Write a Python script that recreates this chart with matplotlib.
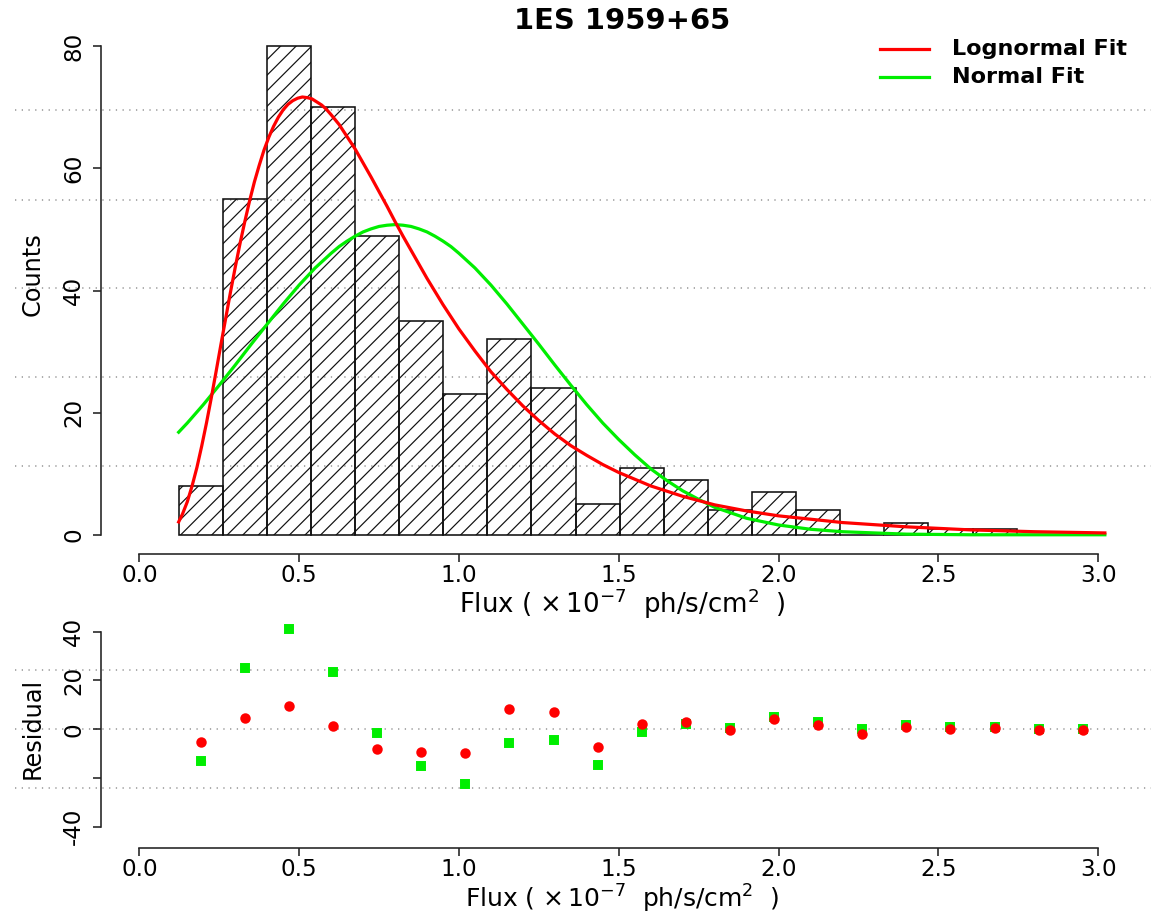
import numpy as np
import matplotlib
matplotlib.use("Agg")
import matplotlib.pyplot as plt
from matplotlib.lines import Line2D
from matplotlib.transforms import blended_transform_factory

# ---- data --------------------------------------------------------------------
bin_edges = [0.123, 0.261, 0.399, 0.537, 0.675, 0.813, 0.951, 1.089, 1.227, 1.365,
             1.503, 1.641, 1.779, 1.917, 2.055, 2.193, 2.331, 2.469, 2.607, 2.745,
             2.883, 3.021]
counts = [8, 55, 80, 70, 49, 35, 23, 32, 24, 5, 11, 9, 4, 7, 4, 0, 2, 1, 1, 0, 0]

logn_x = [0.123, 0.135, 0.15, 0.165, 0.18, 0.195, 0.21, 0.225, 0.24, 0.255, 0.27,
          0.285, 0.30, 0.315, 0.33, 0.345, 0.36, 0.375, 0.39, 0.405, 0.42, 0.435,
          0.45, 0.465, 0.48, 0.495, 0.51, 0.525, 0.54, 0.555, 0.57, 0.585, 0.60,
          0.625, 0.65, 0.675, 0.70, 0.725, 0.75, 0.775, 0.80, 0.825, 0.85, 0.875,
          0.90, 0.95, 1.00, 1.05, 1.10, 1.15, 1.20, 1.25, 1.30, 1.35, 1.40, 1.45,
          1.50, 1.60, 1.70, 1.80, 1.90, 2.00, 2.20, 2.40, 2.60, 2.80, 3.021]
logn_y = [2.1, 3.4, 5.4, 8.0, 11.0, 14.5, 18.3, 22.4, 26.7, 31.1, 35.4,
          39.7, 43.8, 47.7, 51.3, 54.7, 57.8, 60.5, 63.0, 65.1, 66.9, 68.4,
          69.6, 70.5, 71.1, 71.5, 71.7, 71.6, 71.4, 70.9, 70.4, 69.7, 68.8,
          67.2, 65.2, 63.2, 60.9, 58.6, 56.2, 53.8, 51.3, 48.9, 46.6, 44.3,
          42.0, 37.7, 33.7, 30.1, 26.7, 23.8, 21.1, 18.7, 16.5, 14.6, 13.0, 11.5,
          10.2, 8.0, 6.3, 4.9, 3.9, 3.1, 2.0, 1.3, 0.8, 0.5, 0.3]

norm_x = [0.123, 0.15, 0.2, 0.25, 0.3, 0.35, 0.4, 0.45, 0.5, 0.55, 0.6, 0.625,
          0.65, 0.675, 0.7, 0.725, 0.75, 0.775, 0.8, 0.825, 0.85, 0.875, 0.9,
          0.925, 0.95, 0.975, 1.0, 1.05, 1.1, 1.15, 1.2, 1.25, 1.3, 1.35, 1.4,
          1.45, 1.5, 1.55, 1.6, 1.65, 1.7, 1.75, 1.8, 1.9, 2.0, 2.1, 2.2, 2.4,
          2.6, 2.8, 3.021]
norm_y = [16.8, 18.3, 21.3, 24.5, 27.8, 31.2, 34.5, 37.8, 40.9, 43.7, 46.1, 47.2,
          48.1, 48.9, 49.6, 50.1, 50.5, 50.7, 50.8, 50.7, 50.5, 50.1, 49.6,
          48.9, 48.1, 47.2, 46.1, 43.7, 40.9, 37.8, 34.5, 31.2, 27.8, 24.5, 21.3,
          18.3, 15.6, 13.1, 10.8, 8.9, 7.2, 5.8, 4.5, 2.7, 1.6, 0.9, 0.5, 0.1,
          0.0, 0.0, 0.0]

resid_logn = [-5.2, 4.6, 9.6, 1.2, -8.3, -9.3, -9.7, 8.2, 7.0, -7.2, 2.3, 2.9,
              -0.4, 4.0, 1.6, -1.8, 0.7, 0.0, 0.3, -0.5, -0.4]
resid_norm = [-12.9, 25.2, 41.0, 23.5, -1.4, -15.0, -22.3, -5.6, -4.4, -14.5, -1.2,
              2.0, 0.4, 5.2, 3.1, -0.1, 1.8, 1.0, 1.0, 0.2, 0.2]

x_ticks = [0.0, 0.5, 1.0, 1.5, 2.0, 2.5, 3.0]
count_ticks = [0, 20, 40, 60, 80]
resid_ticks = [40, 20, 0, -20, -40]
resid_labels = ["40", "20", "0", "", "-40"]
count_grid = [11.3, 25.8, 40.4, 54.9, 69.5]
resid_grid = [-24.3, 0.0, 24.3]

title = "1ES 1959+65"
xlabel = r"Flux ( $\times\,10^{-7}$  ph/s/cm$^{2}$  )"

# ---- layout (pixel based, matches the 1151x914 reference) ---------------------
W, H, DPI = 1151, 914, 140
PT = 72.0 / DPI  # points per pixel

plt.rcParams["font.family"] = ["DejaVu Sans"]
plt.rcParams["mathtext.fontset"] = "dejavusans"
plt.rcParams["axes.unicode_minus"] = False
plt.rcParams["hatch.linewidth"] = 1.2 * PT


def fx(px):
    return px / W


def fy(py):
    return 1 - py / H


RED = "#ff0000"
GREEN = "#00ee00"
GRID = "#999999"

fig = plt.figure(figsize=(W / DPI, H / DPI), dpi=DPI)
fig.patch.set_facecolor("white")

ax_top = fig.add_axes([fx(101), fy(554.3), fx(1136.5) - fx(101), fy(21.3) - fy(554.3)])
ax_bot = fig.add_axes([fx(101), fy(847.7), fx(1136.5) - fx(101), fy(610.7) - fy(847.7)])

tick_fs = 23 * PT
for ax in (ax_top, ax_bot):
    ax.set_xlim(-0.12, 3.12)
    ax.set_facecolor("none")
    for s in ("top", "right"):
        ax.spines[s].set_visible(False)
    for s in ("left", "bottom"):
        ax.spines[s].set_linewidth(1.6 * PT)
        ax.spines[s].set_color("#222222")
    ax.spines["bottom"].set_bounds(0, 3)
    ax.set_xticks(x_ticks)
    ax.set_xticklabels([f"{t:.1f}" for t in x_ticks])
    ax.tick_params(direction="out", length=8 * PT, width=1.6 * PT, color="#222222",
                   labelsize=tick_fs)
    ax.tick_params(axis="x", pad=2 * PT)
    ax.tick_params(axis="y", labelrotation=90, pad=8 * PT)

# ---- top: histogram + fits ---------------------------------------------------
ax_top.set_ylim(-3.2, 84.1)
ax_top.spines["left"].set_bounds(0, 80)
ax_top.set_yticks(count_ticks)
ax_top.set_yticklabels([str(t) for t in count_ticks])
plt.setp(ax_top.get_yticklabels(), va="center")

widths = np.diff(bin_edges)
ax_top.bar(bin_edges[:-1], counts, width=widths, align="edge", fill=False,
           hatch="///", edgecolor="#111111", linewidth=1.6 * PT, zorder=2)
ax_top.plot(logn_x, logn_y, color=RED, lw=3.2 * PT, zorder=4,
            solid_joinstyle="round")
ax_top.plot(norm_x, norm_y, color=GREEN, lw=3.2 * PT, zorder=3,
            solid_joinstyle="round")

# dotted guide lines run across the whole figure width
for ax, levels in ((ax_top, count_grid), (ax_bot, resid_grid)):
    tr = blended_transform_factory(fig.transFigure, ax.transData)
    for lv in levels:
        ax.add_line(Line2D([fx(15), 1.0], [lv, lv], transform=tr, color=GRID,
                           lw=1.6 * PT, dashes=(0.8, 3.4), clip_on=False, zorder=1))

# ---- bottom: residuals ----------------------------------------------------------
centers = (np.array(bin_edges[:-1]) + np.array(bin_edges[1:])) / 2
ax_bot.set_ylim(-48.6, 48.6)
ax_bot.spines["left"].set_bounds(-40, 40)
ax_bot.set_yticks(resid_ticks)
ax_bot.set_yticklabels(resid_labels)
plt.setp(ax_bot.get_yticklabels(), va="center")
ax_bot.plot(centers, resid_norm, ls="none", marker="s", ms=7.5 * PT, color=GREEN,
            mec=GREEN, zorder=3)
ax_bot.plot(centers, resid_logn, ls="none", marker="o", ms=8.5 * PT, color=RED,
            mec=RED, zorder=4)

# ---- text ---------------------------------------------------------------------
fig.text(fx(622), fy(21), title, ha="center", va="center", fontsize=29 * PT,
         fontweight="bold")
fig.text(fx(622), fy(604), xlabel, ha="center", va="center", fontsize=26 * PT)
fig.text(fx(622), fy(899), xlabel, ha="center", va="center", fontsize=25 * PT)
fig.text(fx(33), fy(274), "Counts", ha="center", va="center", rotation=90,
         fontsize=24 * PT)
fig.text(fx(33), fy(728), "Residual", ha="center", va="center", rotation=90,
         fontsize=24 * PT)

# legend drawn by hand, like R's legend() without a box
for yy, col, lab in ((49.3, RED, "Lognormal Fit"), (77.3, GREEN, "Normal Fit")):
    fig.add_artist(Line2D([fx(880), fx(929)], [fy(yy), fy(yy)], color=col,
                          lw=3.2 * PT, transform=fig.transFigure))
    fig.text(fx(952), fy(yy), lab, ha="left", va="center", fontsize=22.4 * PT,
             fontweight="bold")

fig.savefig("out.png", dpi=DPI, facecolor="white")
